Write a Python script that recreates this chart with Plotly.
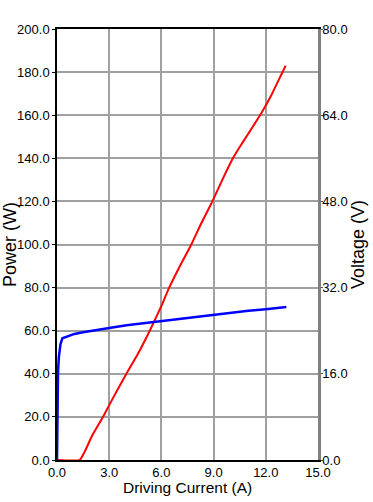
import plotly.graph_objects as go

# Driving current (A) and power (W)
current_p = [0, 1.3, 1.6, 2.0, 2.64, 3.3, 3.99, 4.7, 5.33, 6.0, 6.42, 7.0, 7.72, 8.3,
             8.93, 9.5, 10.11, 10.6, 11.0, 11.75, 12.3, 12.9, 13.14]
power = [0, 0, 4, 11, 20, 30, 40, 50, 60, 71.5, 79.5, 89, 100, 110,
         120, 130, 140, 146.5, 151.5, 161, 169, 179, 183]

# Driving current (A) and voltage (V)
current_v = [0, 0.01, 0.03, 0.06, 0.11, 0.2, 0.31, 0.6, 1.0, 1.5, 2.0, 3.0, 4.0, 5.0,
             6.0, 7.0, 8.0, 9.0, 10.0, 11.0, 12.0, 13.18]
voltage = [0, 8, 14, 16.5, 19.2, 21.5, 22.6, 23.0, 23.4, 23.7, 24.0, 24.5, 25.0, 25.4,
           25.8, 26.2, 26.6, 27.0, 27.3, 27.7, 28.0, 28.4]

fig = go.Figure()
fig.add_trace(go.Scatter(x=current_p, y=power, mode="lines", name="Power",
                         line=dict(color="#ff0000", width=2, shape="spline", smoothing=0.4)))
fig.add_trace(go.Scatter(x=current_v, y=voltage, mode="lines", name="Voltage",
                         line=dict(color="#0000ff", width=2.5), yaxis="y2"))

font = "Liberation Sans, Arial, sans-serif"
fig.update_layout(
    width=373, height=502,
    margin=dict(l=57, r=55, t=29, b=42),
    paper_bgcolor="white", plot_bgcolor="white",
    showlegend=False,
    font=dict(family=font, size=13, color="#000000"),
    xaxis=dict(range=[0, 15], dtick=3, tick0=0, tickformat=".1f",
               showgrid=True, gridcolor="#a0a0a0", gridwidth=1.5,
               showline=True, linecolor="black", linewidth=1.5, mirror=True,
               ticks="", ticklen=0,
               zeroline=False, automargin=False),
    yaxis=dict(range=[0, 200], dtick=20, tick0=0, tickformat=".1f",
               showgrid=True, gridcolor="#a0a0a0", gridwidth=1.5,
               showline=True, linecolor="black", linewidth=1.5,
               ticks="outside", ticklen=3, tickcolor="black",
               zeroline=False, automargin=False,
               title=dict(text="Power (W)", font=dict(size=18), standoff=1)),
    yaxis2=dict(range=[0, 80], dtick=16, tick0=0, tickformat=".1f",
                overlaying="y", side="right",
                showgrid=False,
                showline=True, linecolor="#808080", linewidth=2.5,
                ticks="outside", ticklen=2, tickcolor="#505050",
                ticklabelstandoff=-3,
                zeroline=False, automargin=False,
                title=dict(text="Voltage (V)", font=dict(size=18), standoff=2)),
    annotations=[dict(text="Driving Current (A)", xref="paper", yref="paper",
                      x=0.5, y=-27 / 431, xanchor="center", yanchor="middle",
                      showarrow=False, font=dict(size=15.5))],
)

fig.write_html("out.html", config={"displayModeBar": False},
               post_script="document.body.style.margin='0';document.body.style.overflow='hidden';")
